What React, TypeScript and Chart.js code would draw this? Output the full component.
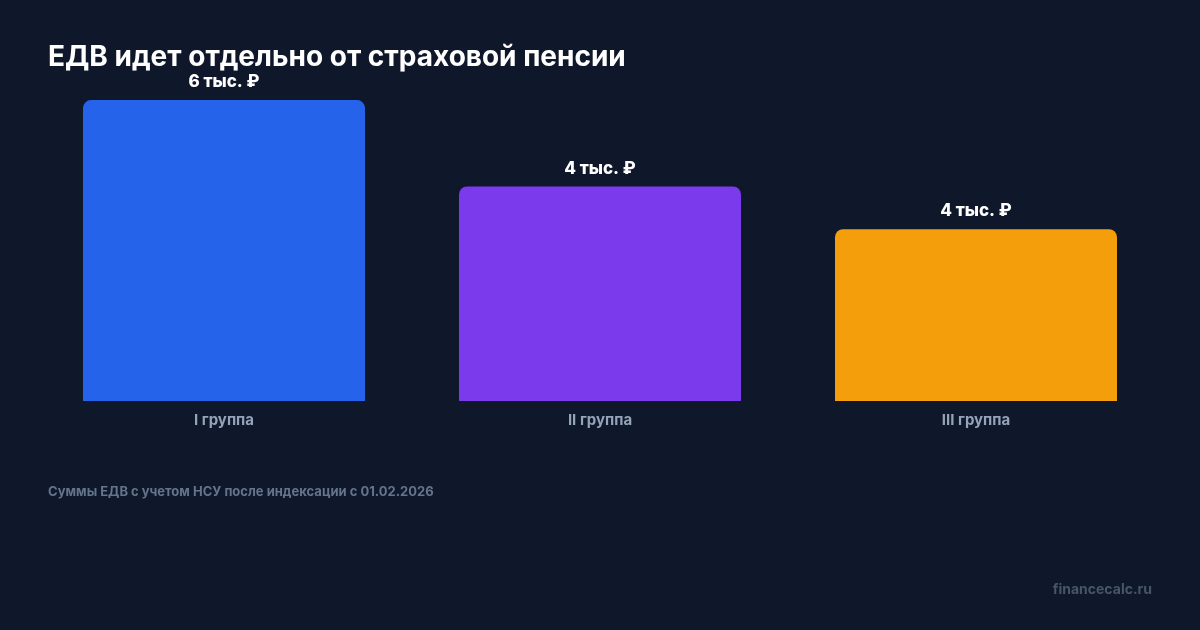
import React, { useEffect, useRef } from "react";
import { Chart, registerables } from "chart.js";

Chart.register(...registerables);

const categories = ["I группа", "II группа", "III группа"];
const values = [6200, 4420, 3540];
const valueLabels = ["6 тыс. ₽", "4 тыс. ₽", "4 тыс. ₽"];
const barColors = ["#2563eb", "#7c3aed", "#f59e0b"];
const titleText = "ЕДВ идет отдельно от страховой пенсии";
const footnoteText = "Суммы ЕДВ с учетом НСУ после индексации с 01.02.2026";
const watermarkText = "financecalc.ru";

const FONT = "Inter, 'Noto Sans', sans-serif";

const decorPlugin = {
  id: "decor",
  beforeDraw(chart: any) {
    const ctx = chart.ctx;
    ctx.save();
    ctx.fillStyle = "#0f172a";
    ctx.fillRect(0, 0, chart.width, chart.height);
    ctx.restore();
  },
  afterDraw(chart: any) {
    const ctx = chart.ctx;
    ctx.save();
    ctx.textBaseline = "alphabetic";
    ctx.fillStyle = "#ffffff";
    ctx.font = `700 28px ${FONT}`;
    ctx.textAlign = "left";
    ctx.fillText(titleText, 48, 66);

    const meta = chart.getDatasetMeta(0);
    ctx.font = `800 17px ${FONT}`;
    ctx.textAlign = "center";
    ctx.textBaseline = "middle";
    meta.data.forEach((bar: any, i: number) => {
      ctx.fillText(valueLabels[i], bar.x, bar.y - 18);
    });

    ctx.textBaseline = "middle";
    ctx.textAlign = "left";
    ctx.fillStyle = "#64748b";
    ctx.font = `700 13px ${FONT}`;
    ctx.fillText(footnoteText, 48, 492);

    ctx.textAlign = "right";
    ctx.fillStyle = "#475569";
    ctx.font = `700 14px ${FONT}`;
    ctx.fillText(watermarkText, 1152, 590);
    ctx.restore();
  },
};

export default function App() {
  const ref = useRef<HTMLCanvasElement>(null);
  useEffect(() => {
    document.body.style.margin = "0";
    document.body.style.background = "#0f172a";
    const chart = new Chart(ref.current!, {
      type: "bar",
      data: {
        labels: categories,
        datasets: [
          {
            data: values,
            backgroundColor: barColors,
            borderRadius: { topLeft: 8, topRight: 8, bottomLeft: 0, bottomRight: 0 },
            borderSkipped: false,
            barPercentage: 0.75,
            categoryPercentage: 1,
          },
        ],
      },
      options: {
        animation: false,
        responsive: false,
        maintainAspectRatio: false,
        layout: { padding: { left: 36, right: 36, top: 70, bottom: 191 } },
        plugins: { legend: { display: false }, tooltip: { enabled: false }, title: { display: false } },
        scales: {
          x: {
            grid: { display: false, drawTicks: false },
            border: { display: false },
            ticks: { color: "#94a3b8", font: { family: FONT, size: 15, weight: "bold" }, padding: 10 },
          },
          y: { display: false, min: 0, max: 6820 },
        },
      },
      plugins: [decorPlugin],
    });
    return () => chart.destroy();
  }, []);
  return <canvas ref={ref} width={1200} height={630} style={{ display: "block" }} />;
}
